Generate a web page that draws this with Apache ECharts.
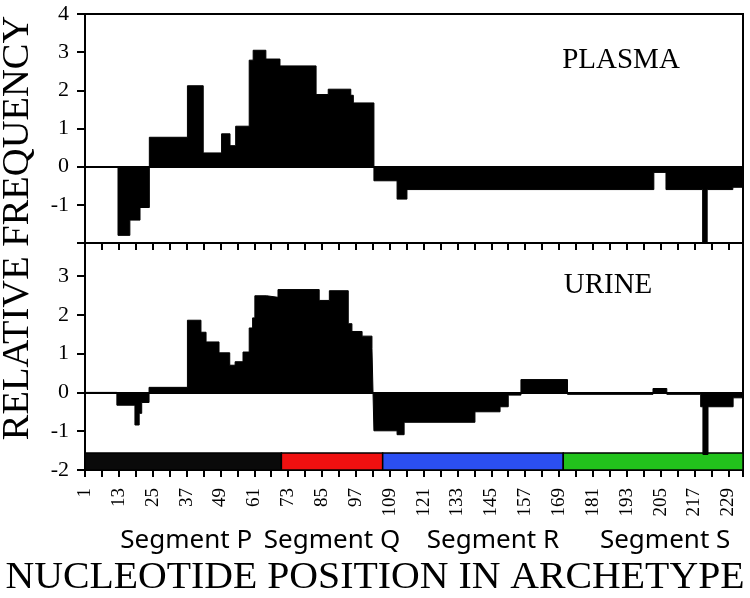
<!DOCTYPE html>
<html>
<head>
<meta charset="utf-8">
<title>Relative frequency by nucleotide position</title>
<script src="https://cdn.jsdelivr.net/npm/echarts@6/dist/echarts.min.js"></script>
<style>
  html, body { margin: 0; padding: 0; background: #fff; }
  #chart { width: 750px; height: 598px; }
</style>
</head>
<body>
<div id="chart"></div>
<script>
// each bin starts at a nucleotide position and holds one value up to the next start
var posEnd = 234.2;

var plasmaStart = [1, 12.7, 16.9, 20.5, 23.8, 37.3, 42.9, 49.4, 52.4, 54.4, 59.2, 60.6, 65.1, 70.1, 82.9, 87.2, 95.2, 96.1, 103.4, 111.6, 115.1, 202.6, 206.9, 219.9, 221.5, 230.6];
var plasmaValue = [0, -1.80, -1.40, -1.07, 0.77, 2.12, 0.36, 0.86, 0.55, 1.06, 2.79, 3.05, 2.82, 2.64, 1.89, 2.03, 1.87, 1.67, -0.37, -0.85, -0.60, -0.15, -0.60, -2.0, -0.60, -0.54];

var urineStart = [1, 12.3, 18.7, 20.2, 21.1, 23.7, 37.3, 42.1, 43.9, 48.5, 52.3, 54.2, 57.0, 59.2, 60.4, 61.2, 65.4, 69.4, 84.0, 87.6, 94.3, 95.6, 99.2, 102.7, 103.4, 111.6, 114.1, 139.2, 148.1, 151.0, 155.5, 172.0, 202.3, 207.2, 219.2, 220.0, 221.8, 230.7];
var urineValue = [0, -0.33, -0.84, -0.54, -0.26, 0.13, 1.86, 1.55, 1.30, 1.02, 0.70, 0.79, 1.04, 1.66, 1.92, 2.49, 2.45, 2.65, 2.37, 2.62, 1.77, 1.57, 1.45, 1.13, -0.99, -1.09, -0.77, -0.50, -0.37, -0.07, 0.33, -0.05, 0.10, -0.05, -0.37, -1.6, -0.37, -0.14];

// segment bar under the urine panel
var segName = ['Segment P', 'Segment Q', 'Segment R', 'Segment S'];
var segStart = [1, 70.6, 106.5, 170.5];
var segEnd = [70.6, 106.5, 170.5, 234.2];
var segColor = ['#0a0a0a', '#f01010', '#2b4ff2', '#22c21c'];
var segTop = -1.56;

function steps(starts, values) {
  var pts = starts.map(function (s, i) { return [s, values[i]]; });
  pts.push([posEnd, values[values.length - 1]]);
  return pts;
}

var serif = 'Liberation Serif';
// labels under the bar are not quite centred on their segments
var segLabelShift = [3, 0, 20, 12];

function xAx(idx, labels) {
  return {
    type: 'value', gridIndex: idx, min: 1, max: posEnd, interval: 6,
    axisLine: { onZero: false, lineStyle: { color: '#000', width: 2 } },
    axisTick: { length: 7, lineStyle: { color: '#000', width: 2 } },
    splitLine: { show: false },
    axisLabel: labels ? {
      rotate: 90, margin: 18, color: '#000', fontFamily: serif, fontSize: 19,
      formatter: function (v) { return (v - 1) % 12 === 0 ? String(v) : ''; }
    } : { show: false }
  };
}

function yAx(idx, max) {
  return {
    type: 'value', gridIndex: idx, min: -2, max: max, interval: 1,
    axisLine: { lineStyle: { color: '#000', width: 2 } },
    axisTick: { length: 8, lineStyle: { color: '#000', width: 2 } },
    splitLine: { show: false },
    axisLabel: {
      margin: 16, color: '#000', fontFamily: serif, fontSize: 22,
      formatter: function (v) {
        if (idx === 0 && v === -2) return '';
        if (v % 1 !== 0) return '';
        return String(v);
      }
    }
  };
}

function stepSeries(idx, starts, values) {
  return {
    type: 'line', xAxisIndex: idx, yAxisIndex: idx,
    data: steps(starts, values), step: 'end', symbol: 'none',
    lineStyle: { color: '#000', width: 1 },
    areaStyle: { color: '#000', opacity: 1, origin: 0 },
    markLine: {
      silent: true, symbol: 'none', label: { show: false },
      lineStyle: { color: '#000', width: 2, type: 'solid' },
      data: [{ yAxis: 0 }]
    }
  };
}

var chart = echarts.init(document.getElementById('chart'));
chart.setOption({
  animation: false,
  backgroundColor: '#fff',
  grid: [
    { left: 85, right: 7, top: 14, height: 229, show: true, borderColor: '#000', borderWidth: 2 },
    { left: 85, right: 7, top: 243, height: 227, show: true, borderColor: '#000', borderWidth: 2 }
  ],
  xAxis: [xAx(0, false), xAx(1, true)],
  yAxis: [yAx(0, 4), yAx(1, 3.85)],
  series: [
    stepSeries(0, plasmaStart, plasmaValue),
    stepSeries(1, urineStart, urineValue),
    {
      type: 'line', xAxisIndex: 1, yAxisIndex: 1, z: 5,
      data: [[1, -2]], symbol: 'none', lineStyle: { width: 0 },
      markArea: {
        silent: true,
        data: segName.map(function (n, i) {
          return [
            {
              name: n, xAxis: segStart[i], yAxis: -2,
              itemStyle: { color: segColor[i], borderColor: '#000', borderWidth: 1.5, opacity: 1 },
              label: {
                show: true, position: 'bottom', distance: 57, offset: [segLabelShift[i], 0],
                color: '#000', fontFamily: 'Noto Sans', fontSize: 26
              }
            },
            { xAxis: segEnd[i], yAxis: segTop }
          ];
        })
      }
    }
  ],
  graphic: [
    { type: 'text', x: 621, y: 60, style: { text: 'PLASMA', font: '29px "Liberation Serif"', fill: '#000', textAlign: 'center', textVerticalAlign: 'middle' } },
    { type: 'text', x: 608, y: 285, style: { text: 'URINE', font: '29px "Liberation Serif"', fill: '#000', textAlign: 'center', textVerticalAlign: 'middle' } },
    { type: 'text', x: 18, y: 228, rotation: Math.PI / 2, scaleX: 1.04, style: { text: 'RELATIVE FREQUENCY', font: '37px "Liberation Serif"', fill: '#000', textAlign: 'center', textVerticalAlign: 'middle' } },
    { type: 'text', x: 375, y: 578, scaleX: 1.075, style: { text: 'NUCLEOTIDE POSITION IN ARCHETYPE', font: '37px "Liberation Serif"', fill: '#000', textAlign: 'center', textVerticalAlign: 'middle' } }
  ]
});
</script>
</body>
</html>
